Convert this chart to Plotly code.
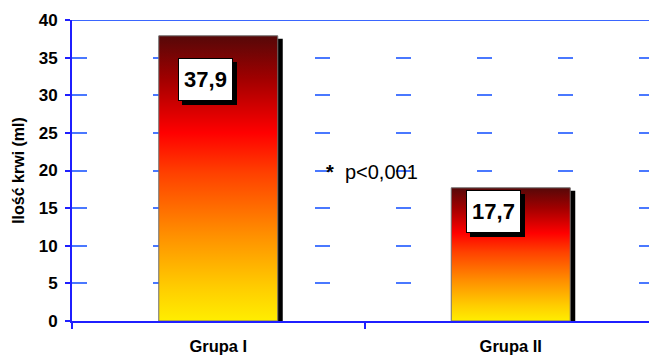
import plotly.graph_objects as go

# ---- data ----
categories = ["Grupa I", "Grupa II"]
values = [37.9, 17.7]
value_labels = ["37,9", "17,7"]
y_ticks = [0, 5, 10, 15, 20, 25, 30, 35, 40]
y_title = "Ilość krwi (ml)"
note_text = "<b>*</b>&nbsp;&nbsp;p&lt;0,001"

# ---- styling ----
FONT = "Liberation Sans, Arial, sans-serif"
AXIS_BLUE = "#1f1fff"
GRID_BLUE = "#4a78ff"
PAGE_OFFSET = 8                      # default body margin of the html page
W, H = 657 - PAGE_OFFSET, 355 - PAGE_OFFSET
ML, MR, MT, MB = 72 - PAGE_OFFSET, 0, 20 - PAGE_OFFSET, 34
plot_w = W - ML - MR
plot_h = H - MT - MB
x_range = [-0.5, len(categories) - 0.5]
y_range = [0, 40]
px_per_x = plot_w / (x_range[1] - x_range[0])
px_per_y = plot_h / (y_range[1] - y_range[0])
half_w = 59.5 / px_per_x          # half bar width in axis units
shadow_dx = 5 / px_per_x
shadow_dy = 3 / px_per_y
label_shifts = [(-13, -22), (-17, -2)]   # (xshift, yshift) px from bar top

grad = [[0.0, "#ffee00"], [0.12, "#ffcc00"], [0.3, "#ff9000"],
        [0.52, "#ff4000"], [0.66, "#ff0000"], [0.85, "#a00000"],
        [1.0, "#560808"]]

fig = go.Figure()
xs = list(range(len(categories)))

# shadows
fig.add_trace(go.Bar(
    x=[x + shadow_dx for x in xs], y=[v - shadow_dy for v in values],
    width=2 * half_w, marker=dict(color="black", line=dict(width=0)),
    hoverinfo="skip", showlegend=False))

# gradient bars
for x, v, name in zip(xs, values, categories):
    fig.add_trace(go.Scatter(
        x=[x - half_w, x - half_w, x + half_w, x + half_w, x - half_w],
        y=[0, v, v, 0, 0], mode="lines", fill="toself",
        fillgradient=dict(type="vertical", colorscale=grad),
        line=dict(color="#707070", width=1), name=name,
        hovertemplate=f"{name}: {v}<extra></extra>", showlegend=False))

# value labels with shadow
for x, v, lab, (dx, dy) in zip(xs, values, value_labels, label_shifts):
    fig.add_annotation(x=x, y=v, text="", showarrow=False,
                       xanchor="center", yanchor="top", xshift=dx + 4, yshift=dy - 4,
                       width=53, height=41, bgcolor="black", borderwidth=1,
                       bordercolor="black", borderpad=0)
    fig.add_annotation(x=x, y=v, text=f"<b>{lab}</b>", showarrow=False,
                       xanchor="center", yanchor="top", xshift=dx, yshift=dy,
                       width=53, height=41, bgcolor="white", borderwidth=1,
                       bordercolor="black", borderpad=0,
                       font=dict(family=FONT, size=22, color="black"))

# p-value note
fig.add_annotation(x=0.525, y=19.8, text=note_text, showarrow=False,
                   xanchor="center", yanchor="middle",
                   font=dict(family=FONT, size=20, color="black"))

# top border line
fig.add_shape(type="line", xref="paper", yref="y", x0=0, x1=1, y0=40, y1=40,
              line=dict(color="#3a66ff", width=2))

fig.update_layout(
    width=W, height=H, margin=dict(l=ML, r=MR, t=MT, b=MB, autoexpand=False),
    paper_bgcolor="white", plot_bgcolor="white", showlegend=False,
    font=dict(family=FONT, color="black"),
    xaxis=dict(range=x_range, tickmode="array", tickvals=xs,
               ticktext=[f"<b>{c}</b>" for c in categories],
               ticks="", showgrid=False, zeroline=False, automargin=False,
               showline=True, linecolor=AXIS_BLUE, linewidth=2,
               tickfont=dict(family=FONT, size=16.5, color="black"),
               ticklabelstandoff=9,
               minor=dict(tickmode="array", tickvals=[-0.5, 0.5, 1.5],
                          ticks="outside", ticklen=6, tickwidth=2,
                          tickcolor=AXIS_BLUE, showgrid=False)),
    yaxis=dict(range=y_range, tickmode="array", tickvals=y_ticks,
               ticktext=[f"<b>{t}</b>" for t in y_ticks],
               ticks="outside", ticklen=5, tickwidth=2, tickcolor=AXIS_BLUE,
               showline=True, linecolor=AXIS_BLUE, linewidth=2,
               showgrid=True, gridcolor=GRID_BLUE, gridwidth=1.5,
               griddash="15px,66px", zeroline=False, automargin=False,
               tickfont=dict(family=FONT, size=17, color="black"),
               ticklabelstandoff=4,
               title=dict(text=f"<b>{y_title}</b>", standoff=10,
                          font=dict(family=FONT, size=16, color="black"))),
)

fig.write_html("out.html")
